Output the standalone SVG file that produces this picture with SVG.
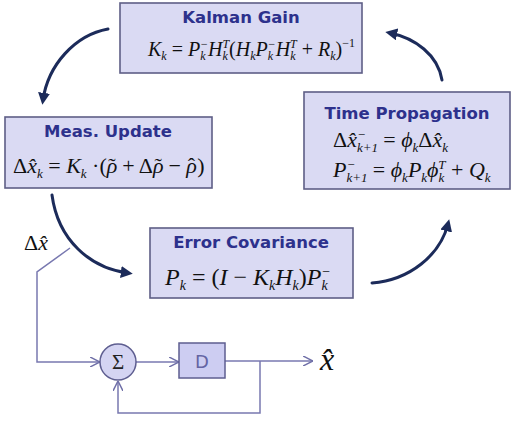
<svg xmlns="http://www.w3.org/2000/svg" width="513" height="422" viewBox="0 0 513 422">
<style>
.box{fill:#dadaf3;stroke:#5e5e86;stroke-width:1.6}
.ttl{font-family:"DejaVu Sans",sans-serif;font-weight:bold;font-size:16.5px;fill:#2d318c;text-anchor:middle}
.m{font-family:"Liberation Serif",serif;font-style:italic;fill:#111}
.up{font-style:normal}
.s12{font-size:12px}
.s13{font-size:13px}
.s14{font-size:14px}
.arc{fill:none;stroke:#1c2b5a;stroke-width:3;stroke-linecap:round}
.ln{fill:none;stroke:#7878b0;stroke-width:1.5}
</style>
<defs>
<marker id="ah" viewBox="0 0 10 10" refX="6" refY="5" markerWidth="4" markerHeight="4" orient="auto"><path d="M0,0 L10,5 L0,10 z" fill="#1c2b5a"/></marker>
<marker id="oa" viewBox="0 0 10 10" refX="10" refY="5" markerWidth="10" markerHeight="10" markerUnits="userSpaceOnUse" orient="auto"><path d="M0,0 L10,5 L0,10" fill="none" stroke="#7070a8" stroke-width="1.5"/></marker>
</defs>
<rect width="513" height="422" fill="#fff"/>
<g id="connectors">
<path class="arc" d="M108,29 C75,35 48,65 43,100" marker-end="url(#ah)"/>
<path class="arc" d="M442,80 C438,55 415,38 390,33" marker-end="url(#ah)"/>
<path class="arc" d="M372,283 C410,280 440,255 448,224" marker-end="url(#ah)"/>
<path class="arc" d="M52,195 C58,240 90,268 128,273" marker-end="url(#ah)"/>
<path class="ln" d="M70,248 L37,272 L37,362 L100,362" marker-end="url(#oa)"/>
<path class="ln" d="M136,362 L179,362" marker-end="url(#oa)"/>
<path class="ln" d="M225,361 L313,361" marker-end="url(#oa)"/>
<path class="ln" d="M260,361 L260,413 L118,413 L118,381" marker-end="url(#oa)"/>
<text class="m" x="24" y="250" font-size="22"><tspan class="up">Δ</tspan>x̂</text>
</g>
<g id="kalman-gain">
<rect class="box" x="120" y="3" width="242" height="70"/>
<text class="ttl" x="241" y="23">Kalman Gain</text>
<text class="m" x="148" y="56" font-size="20">K<tspan class="s12" dy="4">k</tspan><tspan class="up" dy="-4"> = </tspan>P<tspan class="s12" dy="4">k</tspan><tspan class="s12" dx="-5.5" dy="-12">−</tspan><tspan dy="8">H</tspan><tspan class="s12" dy="4">k</tspan><tspan class="s12" dx="-5.5" dy="-12">T</tspan><tspan class="up" dy="8">(</tspan>H<tspan class="s12" dy="4">k</tspan><tspan dy="-4">P</tspan><tspan class="s12" dy="4">k</tspan><tspan class="s12" dx="-5.5" dy="-12">−</tspan><tspan dy="8">H</tspan><tspan class="s12" dy="4">k</tspan><tspan class="s12" dx="-5.5" dy="-12">T</tspan><tspan class="up" dy="8"> + </tspan>R<tspan class="s12" dy="4">k</tspan><tspan class="up" dy="-4">)</tspan><tspan class="s12 up" dy="-9">−1</tspan></text>
</g>
<g id="meas-update">
<rect class="box" x="5" y="117" width="207" height="71"/>
<text class="ttl" x="108" y="137">Meas. Update</text>
<text class="m" x="13" y="173" font-size="22"><tspan class="up">Δ</tspan>x̂<tspan class="s13" dy="5">k</tspan><tspan class="up" dy="-5"> = </tspan>K<tspan class="s13" dy="5">k</tspan><tspan class="up" dy="-5"> ·(</tspan>ρ<tspan class="up" dx="-9">˜</tspan><tspan class="up" dx="1"> + Δ</tspan>ρ<tspan class="up" dx="-9">˜</tspan><tspan class="up" dx="1"> − </tspan>ρ<tspan class="up" dx="-9">ˆ</tspan><tspan class="up" dx="2">)</tspan></text>
</g>
<g id="time-propagation">
<rect class="box" x="304" y="92" width="206" height="97"/>
<text class="ttl" x="407" y="119">Time Propagation</text>
<text class="m" x="333" y="147" font-size="22"><tspan class="up">Δ</tspan>x̂<tspan class="s13" dy="5">k+1</tspan><tspan class="s13" dx="-21" dy="-13">−</tspan><tspan class="up" dx="12" dy="8"> = </tspan>ϕ<tspan class="s13" dy="5">k</tspan><tspan class="up" dy="-5">Δ</tspan>x̂<tspan class="s13" dy="5">k</tspan></text>
<text class="m" x="333" y="177" font-size="22">P<tspan class="s13" dy="5">k+1</tspan><tspan class="s13" dx="-21" dy="-13">−</tspan><tspan class="up" dx="12" dy="8"> = </tspan>ϕ<tspan class="s13" dy="5">k</tspan><tspan dy="-5">P</tspan><tspan class="s13" dy="5">k</tspan><tspan dy="-5">ϕ</tspan><tspan class="s13" dy="5">k</tspan><tspan class="s13" dx="-6" dy="-13">T</tspan><tspan class="up" dy="8"> + </tspan>Q<tspan class="s13" dy="5">k</tspan></text>
</g>
<g id="error-covariance">
<rect class="box" x="150" y="228" width="203" height="70"/>
<text class="ttl" x="251" y="248">Error Covariance</text>
<text class="m" x="165" y="285" font-size="24">P<tspan class="s14" dy="5">k</tspan><tspan class="up" dy="-5"> = (</tspan>I<tspan class="up"> − </tspan>K<tspan class="s14" dy="5">k</tspan><tspan dy="-5">H</tspan><tspan class="s14" dy="5">k</tspan><tspan class="up" dy="-5">)</tspan>P<tspan class="s14" dy="5">k</tspan><tspan class="s14" dx="-6.5" dy="-14">−</tspan></text>
</g>
<g id="sum">
<circle cx="118" cy="362" r="18" fill="#d4d4f2" stroke="#5e5e90" stroke-width="1.5"/>
<text x="118" y="369" font-family="Liberation Serif,serif" font-size="21" fill="#222" text-anchor="middle">Σ</text>
</g>
<g id="delay">
<rect x="179" y="343" width="46" height="35" fill="#cdcdf2" stroke="#5e5e90" stroke-width="1.5"/>
<text x="202" y="368" font-family="DejaVu Sans,sans-serif" font-size="18" fill="#6464a4" text-anchor="middle">D</text>
</g>
<g id="output">
<text class="m" x="320" y="370" font-size="32">x̂</text>
</g>
</svg>
